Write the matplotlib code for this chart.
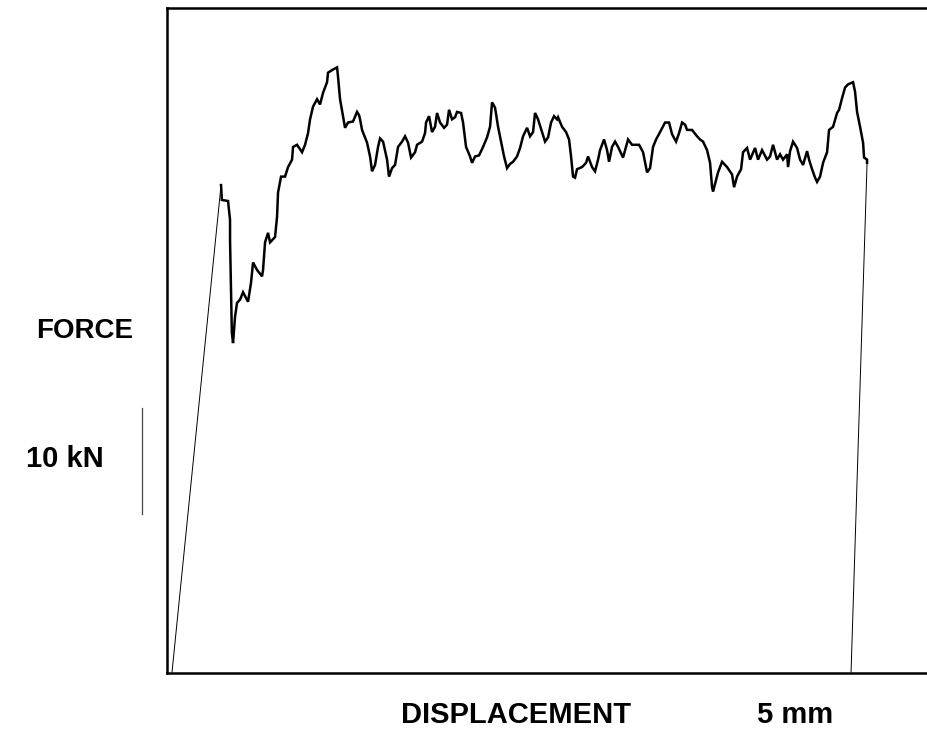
import matplotlib
matplotlib.use("Agg")
import matplotlib.pyplot as plt

plt.rcParams["font.family"] = ["Liberation Sans", "DejaVu Sans"]

# elastic loading line (mm, kN)
rise_mm = [0.25, 2.70]
rise_kn = [0.1, 46.0]

# measured force-displacement record after first peak
disp_mm = [
    2.70, 2.74, 3.05, 3.15, 3.15, 3.19, 3.24, 3.30, 3.40, 3.50, 3.65, 3.80, 4.05, 4.20, 4.30,
    4.50, 4.75, 4.80, 4.90, 5.05, 5.15, 5.40, 5.50, 5.55, 5.70, 5.90, 6.05, 6.25, 6.30, 6.50,
    6.75, 6.90, 7.05, 7.15, 7.30, 7.50, 7.65, 7.80, 8.00, 8.05, 8.30, 8.50, 8.55, 8.65, 8.80,
    8.90, 9.05, 9.30, 9.50, 9.60, 9.65, 9.75, 10.00, 10.15, 10.25, 10.40, 10.55, 10.65, 10.80,
    11.00, 11.10, 11.25, 11.40, 11.55, 11.75, 11.90, 12.05, 12.20, 12.40, 12.50, 12.75, 12.90,
    12.95, 13.10, 13.25, 13.40, 13.50, 13.65, 13.85, 14.00, 14.10, 14.25, 14.40, 14.50, 14.70,
    14.80, 14.95, 15.15, 15.25, 15.40, 15.60, 15.80, 16.00, 16.15, 16.25, 16.40, 16.55, 16.75,
    16.85, 17.00, 17.15, 17.30, 17.50, 17.65, 17.80, 18.00, 18.15, 18.30, 18.40, 18.55, 18.75,
    18.90, 19.05, 19.20, 19.35, 19.50, 19.55, 19.75, 19.95, 20.10, 20.20, 20.30, 20.40, 20.50,
    20.75, 20.95, 21.05, 21.25, 21.40, 21.55, 21.65, 21.85, 22.00, 22.10, 22.25, 22.40, 22.55,
    22.80, 22.95, 23.05, 23.25, 23.60, 23.80, 24.00, 24.15, 24.30, 24.45, 24.65, 24.90, 25.10,
    25.25, 25.45, 25.60, 25.75, 25.90, 26.00, 26.25, 26.50, 26.65, 26.80, 27.00, 27.15, 27.25,
    27.30, 27.45, 27.55, 27.75, 28.00, 28.25, 28.35, 28.50, 28.70, 28.80, 29.00, 29.15, 29.40,
    29.55, 29.75, 30.00, 30.15, 30.30, 30.50, 30.65, 30.80, 31.00, 31.05, 31.15, 31.30, 31.50,
    31.65, 31.80, 32.00, 32.10, 32.25, 32.40, 32.50, 32.65, 32.80, 33.00, 33.10, 33.30, 33.50,
    33.60, 33.75, 33.90, 34.05, 34.30, 34.40, 34.50, 34.65, 34.80, 34.85, 35.00, 35.00,
]
force_kn = [
    46.0, 44.6, 44.5, 42.7, 40.8, 37.1, 32.1, 31.1, 33.6, 34.9, 35.2, 35.9, 35.0, 36.8, 38.7,
    38.0, 37.4, 38.0, 40.6, 41.5, 40.6, 41.1, 43.0, 45.3, 46.8, 46.8, 47.7, 48.4, 49.6, 49.8,
    49.1, 49.8, 50.9, 52.2, 53.4, 54.1, 53.6, 54.7, 55.7, 56.6, 56.9, 57.1, 56.2, 54.1, 52.5,
    51.4, 51.9, 52.0, 52.9, 52.6, 52.2, 51.2, 50.0, 48.7, 47.3, 47.9, 49.6, 50.4, 50.1,
    48.4, 46.8, 47.6, 47.9, 49.6, 50.1, 50.6, 50.0, 48.6, 49.1, 49.8, 50.1, 50.9,
    51.9, 52.5, 51.0, 51.5, 52.8, 51.9, 51.4, 51.7, 53.1, 52.2, 52.4, 52.9, 52.8,
    51.9, 49.6, 48.7, 48.1, 48.7, 48.8, 49.6, 50.5, 51.5, 53.8, 53.3, 51.5, 49.6,
    48.7, 47.6, 48.0, 48.2, 48.7, 49.5, 50.6, 51.4, 50.6, 51.0, 52.8, 52.2, 51.0,
    50.1, 50.5, 51.9, 52.5, 52.2, 52.4, 51.5, 51.0, 50.3, 48.7, 46.8, 46.7, 47.5,
    47.7, 48.1, 48.7, 47.7, 47.3, 48.4, 49.3, 50.3, 49.3, 48.2, 49.6, 50.1, 49.6,
    48.6, 49.6, 50.3, 49.8, 49.8, 49.1, 47.2, 47.6, 49.6, 50.3, 51.0, 51.9, 51.9,
    50.8, 50.1, 50.9, 51.9, 51.7, 51.2, 51.2, 50.6, 50.3, 50.1, 49.3, 48.1, 45.8,
    45.4, 46.5, 47.2, 48.2, 47.7, 47.0, 45.8, 46.8, 47.5, 49.1, 49.5, 48.4, 49.5,
    48.4, 49.3, 48.4, 48.7, 49.8, 48.4, 48.9, 48.4, 48.9, 47.7, 49.2, 50.1, 49.5,
    48.4, 47.9, 49.2, 48.4, 47.5, 46.7, 46.3, 46.8, 48.1, 49.1, 51.2, 51.5, 52.8,
    53.1, 54.2, 55.2, 55.5, 55.7, 54.8, 52.9, 51.5, 50.0, 48.6, 48.4, 48.1,
]

# unloading line
drop_mm = [35.0, 34.2]
drop_kn = [48.1, 0.1]

# 10 kN scale bar
scale_bar_kn = [15.0, 25.0]

fig = plt.figure(figsize=(9.28, 7.38), dpi=100)
ax = fig.add_axes([0.18, 0.0881, 0.833, 0.9011])
ax.set_xlim(0, 38.65)
ax.set_ylim(0, 62.7)

ax.plot(rise_mm, rise_kn, color="black", lw=0.7)
ax.plot(disp_mm, force_kn, color="black", lw=1.8, solid_joinstyle="miter")
ax.plot(drop_mm, drop_kn, color="black", lw=0.7)

trans = ax.get_yaxis_transform()
ax.plot([-0.0323, -0.0323], scale_bar_kn, color="#444444", lw=0.9,
        transform=trans, clip_on=False)

for s in ax.spines.values():
    s.set_linewidth(1.8)
ax.spines["right"].set_visible(False)
ax.set_xticks([])
ax.set_yticks([])

fig.text(85 / 928, 1 - 331 / 738, "FORCE", fontsize=20, fontweight="bold",
         ha="center", va="center")
fig.text(65 / 928, 1 - 459 / 738, "10 kN", fontsize=21, fontweight="bold",
         ha="center", va="center")
fig.text(516 / 928, 1 - 715 / 738, "DISPLACEMENT", fontsize=21, fontweight="bold",
         ha="center", va="center")
fig.text(795 / 928, 1 - 715 / 738, "5 mm", fontsize=21, fontweight="bold",
         ha="center", va="center")

fig.savefig("out.png", dpi=100)
